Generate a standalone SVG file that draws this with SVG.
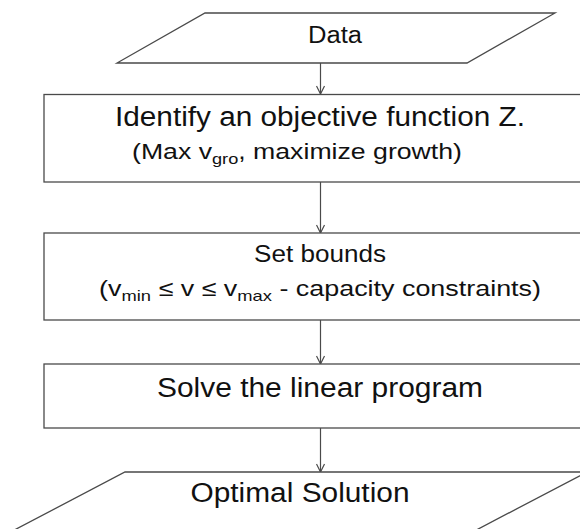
<svg xmlns="http://www.w3.org/2000/svg" width="580" height="529" viewBox="0 0 580 529">
<defs>
<style>
.shape{fill:#ffffff;stroke:#4a4a4a;stroke-width:1.3}
.conn{fill:none;stroke:#4a4a4a;stroke-width:1.2}
.head{fill:none;stroke:#4a4a4a;stroke-width:1.2}
text{font-family:"Liberation Sans",Arial,sans-serif;fill:#111111;text-anchor:middle}
.big{font-size:27px}
.mid{font-size:23px}
.sm{font-size:22px}
.sub{font-size:15px}
</style>
<marker id="arr" viewBox="0 0 10 10" refX="9" refY="5" markerWidth="10" markerHeight="10" markerUnits="userSpaceOnUse" orient="auto">
<path d="M1,1 L9,5 L1,9" class="head"/>
</marker>
</defs>
<rect width="580" height="529" fill="#ffffff"/>
<g id="connectors">
<line class="conn" x1="320.5" y1="63" x2="320.5" y2="94" marker-end="url(#arr)"/>
<line class="conn" x1="320.5" y1="182" x2="320.5" y2="233" marker-end="url(#arr)"/>
<line class="conn" x1="320.5" y1="320" x2="320.5" y2="364" marker-end="url(#arr)"/>
<line class="conn" x1="320.5" y1="428" x2="320.5" y2="472" marker-end="url(#arr)"/>
</g>
<g id="data">
<polygon class="shape" points="205,13 555,13 467,63 117,63"/>
<text class="mid" x="335" y="43" textLength="54" lengthAdjust="spacingAndGlyphs">Data</text>
</g>
<g id="objective">
<rect class="shape" x="44" y="94.5" width="560" height="87.5"/>
<text class="big" x="320" y="126" textLength="410" lengthAdjust="spacingAndGlyphs">Identify an objective function Z.</text>
<text class="sm" x="297" y="159" textLength="330" lengthAdjust="spacingAndGlyphs">(Max v<tspan class="sub" dy="5">gro</tspan><tspan dy="-5">, maximize growth)</tspan></text>
</g>
<g id="bounds">
<rect class="shape" x="44" y="233" width="560" height="87"/>
<text class="mid" x="320" y="262" textLength="132" lengthAdjust="spacingAndGlyphs">Set bounds</text>
<text class="sm" x="320" y="296" textLength="442" lengthAdjust="spacingAndGlyphs">(v<tspan class="sub" dy="5">min</tspan><tspan dy="-5"> ≤ v ≤ v</tspan><tspan class="sub" dy="5">max</tspan><tspan dy="-5">  - capacity constraints)</tspan></text>
</g>
<g id="solve">
<rect class="shape" x="44" y="364" width="560" height="64"/>
<text class="big" x="320" y="397" textLength="326" lengthAdjust="spacingAndGlyphs">Solve the linear program</text>
</g>
<g id="solution">
<polygon class="shape" points="125,472 587,472 442,548 -20,548"/>
<text class="big" x="300" y="502" textLength="219" lengthAdjust="spacingAndGlyphs">Optimal Solution</text>
</g>
</svg>
